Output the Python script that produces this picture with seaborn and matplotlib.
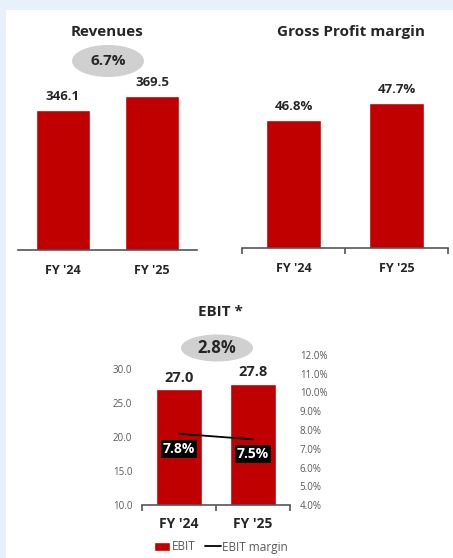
import matplotlib
matplotlib.use("Agg")
import matplotlib.pyplot as plt
from matplotlib.patches import Ellipse, Rectangle, Patch
from matplotlib.lines import Line2D
import seaborn as sns

# data
periods = ["FY '24", "FY '25"]
revenues = [346.1, 369.5]
gross_margin = [46.8, 47.7]
ebit = [27.0, 27.8]
ebit_margin = [7.8, 7.5]
revenue_growth = "6.7%"
ebit_growth = "2.8%"

RED = "#c00000"
DARK = "#262626"
GREY = "#595959"
W, H = 453, 558

sns.set_style("white")
plt.rcParams["font.family"] = ["Open Sans", "DejaVu Sans"]

fig = plt.figure(figsize=(W / 100, H / 100), dpi=100)
fig.patch.set_facecolor("white")
# light blue page edges
fig.add_artist(Rectangle((0, 0), 6 / W, 1, transform=fig.transFigure,
                         fc="#e8f0fb", ec="none", zorder=0))
fig.add_artist(Rectangle((0, 1 - 10 / H), 1, 10 / H, transform=fig.transFigure,
                         fc="#e8f0fb", ec="none", zorder=0))


def box(left, top, right, bottom):
    return [left / W, 1 - bottom / H, (right - left) / W, (bottom - top) / H]


def style_axis(ax, seps=True, pad=10):
    sns.despine(ax=ax, left=True)
    ax.set_facecolor("none")
    ax.spines["bottom"].set_color("#555555")
    ax.spines["bottom"].set_linewidth(1.2)
    ax.set_xlabel("")
    ax.set_ylabel("")
    ax.set_xlim(-0.5, 1.5)
    ax.tick_params(axis="x", length=0, pad=pad, labelsize=9, labelcolor=DARK)
    for t in ax.get_xticklabels():
        t.set_fontweight("bold")
    if seps:
        ax.set_xticks([-0.5, 0.5, 1.5], minor=True)
        ax.tick_params(axis="x", which="minor", bottom=True, length=4, width=1.2,
                       color="#555555", direction="out")


def ellipse(cx, cy, w, h, text, size):
    fig.add_artist(Ellipse((cx / W, 1 - cy / H), w / W, h / H,
                           transform=fig.transFigure, fc="#d0d0d0", ec="none"))
    fig.text(cx / W, 1 - cy / H, text, ha="center", va="center",
             fontsize=size, fontweight="bold", color=DARK)


# Revenues
ax_rev = fig.add_axes(box(18, 80, 197, 250))
sns.barplot(x=periods, y=revenues, color=RED, saturation=1, width=0.6, ax=ax_rev)
ax_rev.set_ylim(100, 398)
ax_rev.set_yticks([])
style_axis(ax_rev, seps=False)
ax_rev.bar_label(ax_rev.containers[0], labels=[f"{v:.1f}" for v in revenues],
                 padding=5, fontsize=9.5, fontweight="bold", color=DARK)
fig.text(107 / W, 1 - 32 / H, "Revenues", ha="center", va="center",
         fontsize=11, fontweight="bold", color=DARK)
ellipse(108, 61, 72, 32, revenue_growth, 11)

# Gross profit margin
ax_gp = fig.add_axes(box(242, 80, 448, 248))
sns.barplot(x=periods, y=gross_margin, color=RED, saturation=1, width=0.54, ax=ax_gp)
ax_gp.set_ylim(40, 48.9)
ax_gp.set_yticks([])
style_axis(ax_gp)
ax_gp.bar_label(ax_gp.containers[0], labels=[f"{v:.1f}%" for v in gross_margin],
                padding=5, fontsize=9.5, fontweight="bold", color=DARK)
fig.text(351 / W, 1 - 32 / H, "Gross Profit margin", ha="center", va="center",
         fontsize=11, fontweight="bold", color=DARK)

# EBIT
ax_eb = fig.add_axes(box(142, 355, 290, 505))
sns.barplot(x=periods, y=ebit, color=RED, saturation=1, width=0.61, ax=ax_eb)
ax_eb.set_ylim(10, 32)
ax_eb.set_yticks([10, 15, 20, 25, 30])
ax_eb.set_yticklabels([f"{v:.1f}" for v in [10, 15, 20, 25, 30]])
ax_eb.tick_params(axis="y", length=0, pad=7, labelsize=7, labelcolor=GREY)
style_axis(ax_eb, pad=9)
for t in ax_eb.get_xticklabels():
    t.set_fontsize(10)
ax_eb.bar_label(ax_eb.containers[0], labels=[f"{v:.1f}" for v in ebit],
                padding=3, fontsize=10.5, fontweight="bold", color=DARK)

ax_m = ax_eb.twinx()
sns.lineplot(x=periods, y=ebit_margin, color="black", linewidth=1.3, ax=ax_m)
ax_m.set_ylim(4, 12)
ticks_r = [4, 5, 6, 7, 8, 9, 10, 11, 12]
ax_m.set_yticks(ticks_r)
ax_m.set_yticklabels([f"{v:.1f}%" for v in ticks_r])
ax_m.tick_params(axis="y", length=0, pad=7, labelsize=7, labelcolor=GREY)
ax_m.set_ylabel("")
for s in ["left", "right", "top", "bottom"]:
    ax_m.spines[s].set_visible(False)
for (x, y), m in zip(ax_m.lines[0].get_xydata(), ebit_margin):
    ax_m.annotate(f"{m:.1f}%", xy=(x, y), xytext=(0, -15), textcoords="offset pixels",
                  ha="center", va="center", color="white", fontsize=10, fontweight="bold",
                  bbox=dict(boxstyle="square,pad=0.15", fc="black", ec="none"))

fig.text(220 / W, 1 - 312 / H, "EBIT *", ha="center", va="center",
         fontsize=11, fontweight="bold", color=DARK)
ellipse(217, 348, 72, 27, ebit_growth, 12)

handles = [Patch(facecolor=RED, label="EBIT"),
           Line2D([], [], color="black", linewidth=1.3, label="EBIT margin")]
fig.legend(handles=handles, loc="center", bbox_to_anchor=(221 / W, 1 - 547 / H),
           ncol=2, frameon=False, fontsize=8.5, handlelength=1.4, handleheight=0.7,
           handletextpad=0.1, columnspacing=0.8, labelcolor=GREY)

fig.savefig("out.png", dpi=100)
